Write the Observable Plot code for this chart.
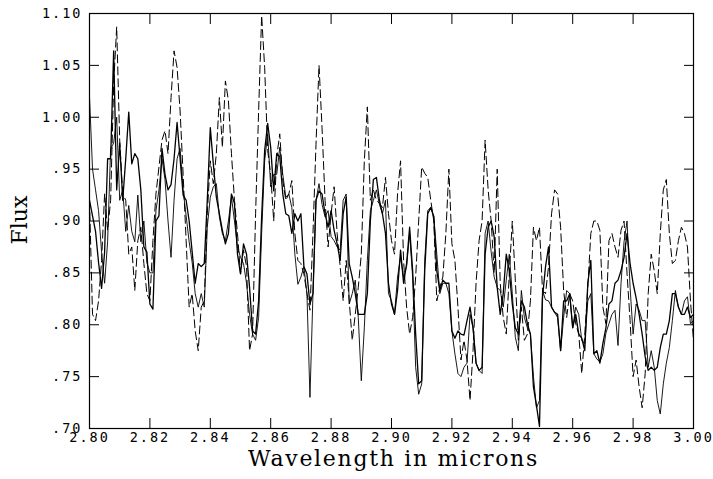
<!DOCTYPE html>
<html><head><meta charset="utf-8">
<script src="https://cdn.jsdelivr.net/npm/d3@7"></script>
<script src="https://cdn.jsdelivr.net/npm/@observablehq/plot@0.6"></script>
<style>
body{margin:0;background:#fff}
#chart g[aria-label="x-axis tick label"] text,
#chart g[aria-label="y-axis tick label"] text{letter-spacing:2px}
#chart .xtitle text{letter-spacing:1.7px}
</style>
</head><body><div id="chart"></div>
<script>
const wavelength = [
2.800,2.801,2.802,2.803,2.804,2.805,2.806,2.807,2.808,2.809,
2.810,2.811,2.812,2.813,2.814,2.815,2.816,2.817,2.818,2.819,
2.820,2.821,2.822,2.823,2.824,2.825,2.826,2.827,2.828,2.829,
2.830,2.831,2.832,2.833,2.834,2.835,2.836,2.837,2.838,2.839,
2.840,2.841,2.842,2.843,2.844,2.845,2.846,2.847,2.848,2.849,
2.850,2.851,2.852,2.853,2.854,2.855,2.856,2.857,2.858,2.859,
2.860,2.861,2.862,2.863,2.864,2.865,2.866,2.867,2.868,2.869,
2.870,2.871,2.872,2.873,2.874,2.875,2.876,2.877,2.878,2.879,
2.880,2.881,2.882,2.883,2.884,2.885,2.886,2.887,2.888,2.889,
2.890,2.891,2.892,2.893,2.894,2.895,2.896,2.897,2.898,2.899,
2.900,2.901,2.902,2.903,2.904,2.905,2.906,2.907,2.908,2.909,
2.910,2.911,2.912,2.913,2.914,2.915,2.916,2.917,2.918,2.919,
2.920,2.921,2.922,2.923,2.924,2.925,2.926,2.927,2.928,2.929,
2.930,2.931,2.932,2.933,2.934,2.935,2.936,2.937,2.938,2.939,
2.940,2.941,2.942,2.943,2.944,2.945,2.946,2.947,2.948,2.949,
2.950,2.951,2.952,2.953,2.954,2.955,2.956,2.957,2.958,2.959,
2.960,2.961,2.962,2.963,2.964,2.965,2.966,2.967,2.968,2.969,
2.970,2.971,2.972,2.973,2.974,2.975,2.976,2.977,2.978,2.979,
2.980,2.981,2.982,2.983,2.984,2.985,2.986,2.987,2.988,2.989,
2.990,2.991,2.992,2.993,2.994,2.995,2.996,2.997,2.998,2.999,
3.000];

const fluxDashed = [
.92,.81,.804,.823,.862,.926,.891,.92,1.032,1.087,
.978,.926,.92,.868,.875,.833,.881,.894,.859,.83,
.823,.881,.926,.952,.978,.987,.965,1.019,1.064,1.048,
1.006,.945,.881,.817,.83,.794,.775,.817,.823,.907,
.958,.936,.965,1.019,.971,1.035,1.016,.965,.92,.888,
.849,.872,.856,.775,.791,.907,1.006,1.098,1.048,.968,
.945,.90,.962,.984,.939,.92,.926,.939,.888,.862,
.859,.849,.83,.814,.888,.974,1.05,.99,.92,.875,
.907,.933,.888,.856,.823,.862,.823,.785,.81,.836,
.868,.958,1.01,.92,.93,.92,.917,.913,.942,.907,
.881,.868,.926,.958,.862,.817,.791,.807,.846,.90,
.952,.946,.942,.92,.90,.823,.836,.846,.888,.95,
.878,.862,.817,.766,.785,.766,.727,.775,.84,.881,
.90,.978,.93,.90,.85,.95,.84,.807,.791,.849,
.90,.843,.785,.817,.785,.791,.823,.894,.881,.894,
.833,.83,.856,.907,.93,.926,.894,.833,.807,.83,
.823,.801,.791,.753,.791,.836,.888,.90,.90,.891,
.817,.801,.881,.888,.875,.865,.891,.90,.849,.804,
.75,.766,.74,.72,.753,.83,.868,.852,.83,.888,
.93,.94,.888,.859,.862,.881,.894,.888,.875,.823,
.785];

const fluxThick = [
.92,.905,.89,.86,.835,.87,.96,.96,1.064,.93,
.975,.92,.96,1.005,.955,.965,.96,.93,.875,.87,
.82,.815,.90,.905,.97,.945,.93,.935,.96,.995,
.96,.925,.92,.90,.87,.84,.859,.856,.859,.92,
.99,.955,.923,.907,.891,.878,.888,.926,.917,.868,
.849,.878,.868,.836,.794,.791,.823,.904,.968,.994,
.971,.929,.965,.962,.926,.907,.905,.888,.907,.90,
.907,.856,.849,.82,.83,.92,.929,.926,.907,.894,
.91,.891,.878,.862,.907,.923,.859,.846,.83,.81,
.81,.81,.83,.90,.94,.942,.92,.907,.888,.84,
.82,.81,.833,.872,.84,.859,.894,.852,.791,.743,
.746,.852,.907,.913,.904,.852,.833,.843,.84,.84,
.794,.787,.794,.791,.79,.804,.817,.797,.763,.756,
.759,.868,.894,.90,.885,.836,.81,.83,.868,.852,
.82,.797,.791,.823,.817,.801,.791,.74,.722,.702,
.826,.856,.875,.817,.812,.81,.775,.823,.823,.83,
.797,.81,.791,.787,.775,.84,.862,.772,.775,.763,
.782,.797,.82,.823,.84,.843,.852,.865,.888,.859,
.84,.826,.81,.791,.769,.756,.759,.756,.759,.778,
.791,.791,.804,.83,.83,.817,.81,.81,.817,.807,
.81];

const fluxThin = [
1.02,.95,.93,.91,.87,.84,.88,.97,.975,1.0,
.92,.93,.89,.915,.89,.88,.925,.88,.90,.86,
.85,.85,.91,.93,.96,.94,.90,.865,.92,.96,
.97,.93,.905,.88,.86,.83,.817,.83,.817,.894,
.923,.933,.936,.904,.888,.881,.90,.923,.90,.875,
.865,.859,.84,.81,.791,.785,.807,.888,.958,.984,
.933,.945,.945,.971,.945,.923,.926,.913,.868,.839,
.846,.856,.83,.73,.83,.92,.936,.916,.904,.91,
.885,.881,.875,.872,.92,.926,.82,.83,.843,.807,
.746,.797,.862,.91,.92,.93,.916,.907,.92,.83,
.823,.81,.846,.865,.846,.856,.888,.846,.759,.733,
.743,.862,.91,.913,.905,.868,.83,.84,.84,.83,
.794,.772,.753,.75,.759,.763,.81,.797,.763,.756,
.753,.888,.90,.87,.846,.836,.833,.817,.843,.868,
.83,.788,.775,.833,.807,.797,.791,.75,.72,.727,
.833,.824,.823,.817,.812,.807,.775,.807,.833,.83,
.797,.817,.81,.785,.782,.823,.83,.772,.767,.764,
.772,.792,.801,.81,.814,.78,.84,.88,.90,.836,
.791,.82,.814,.804,.804,.759,.775,.759,.727,.714,
.743,.763,.778,.804,.833,.817,.81,.823,.827,.801,
.804];

const xTicks = [2.80, 2.82, 2.84, 2.86, 2.88, 2.90, 2.92, 2.94, 2.96, 2.98, 3.00];
const xTickLabels = ["2.80","2.82","2.84","2.86","2.88","2.90","2.92","2.94","2.96","2.98","3.00"];
const yTicks = [0.70, 0.75, 0.80, 0.85, 0.90, 0.95, 1.00, 1.05, 1.10];
const yTickLabels = [".70",".75",".80",".85",".90",".95","1.00","1.05","1.10"];
const xTitle = "Wavelength in microns";
const yTitle = "Flux";

const toRows = ys => wavelength.map((w, i) => ({w, f: ys[i]}));
const xFmt = d => xTickLabels[xTicks.findIndex(t => Math.abs(t - d) < 1e-9)];
const yFmt = d => yTickLabels[yTicks.findIndex(t => Math.abs(t - d) < 1e-9)];

const chart = Plot.plot({
  width: 713, height: 479,
  marginTop: 13, marginRight: 20, marginBottom: 51, marginLeft: 89,
  x: {domain: [2.80, 3.00]},
  y: {domain: [0.70, 1.10]},
  style: {fontFamily: "'DejaVu Sans Mono', monospace", fontSize: "13.5px", background: "#fff", color: "#000"},
  marks: [
    Plot.line(toRows(fluxThin), {x: "w", y: "f", stroke: "#000", strokeWidth: 0.9, clip: true}),
    Plot.line(toRows(fluxThick), {x: "w", y: "f", stroke: "#000", strokeWidth: 1.3, clip: true}),
    Plot.line(toRows(fluxDashed), {x: "w", y: "f", stroke: "#000", strokeWidth: 1, strokeDasharray: "8,4", clip: true}),
    Plot.frame({stroke: "#000", strokeWidth: 1.2}),
    Plot.axisX(xTicks, {anchor: "bottom", tickSize: -10, tickPadding: 14, tickFormat: xFmt, label: null}),
    Plot.axisX(xTicks, {anchor: "top", tickSize: -10, tickFormat: () => "", label: null}),
    Plot.axisY(yTicks, {anchor: "left", tickSize: -10, tickPadding: 17, tickFormat: yFmt, label: null}),
    Plot.axisY(yTicks, {anchor: "right", tickSize: -10, tickFormat: () => "", label: null}),
    Plot.text([xTitle], {frameAnchor: "bottom", dy: 37, dx: 2, fontFamily: "'DejaVu Serif', serif", fontSize: 22, fill: "#000", className: "xtitle"}),
    Plot.text([yTitle], {frameAnchor: "left", textAnchor: "middle", dx: -70, dy: -1, rotate: -90, fontFamily: "'DejaVu Serif', serif", fontSize: 22, fill: "#000"})
  ]
});
document.getElementById("chart").append(chart);
</script>
</body></html>
